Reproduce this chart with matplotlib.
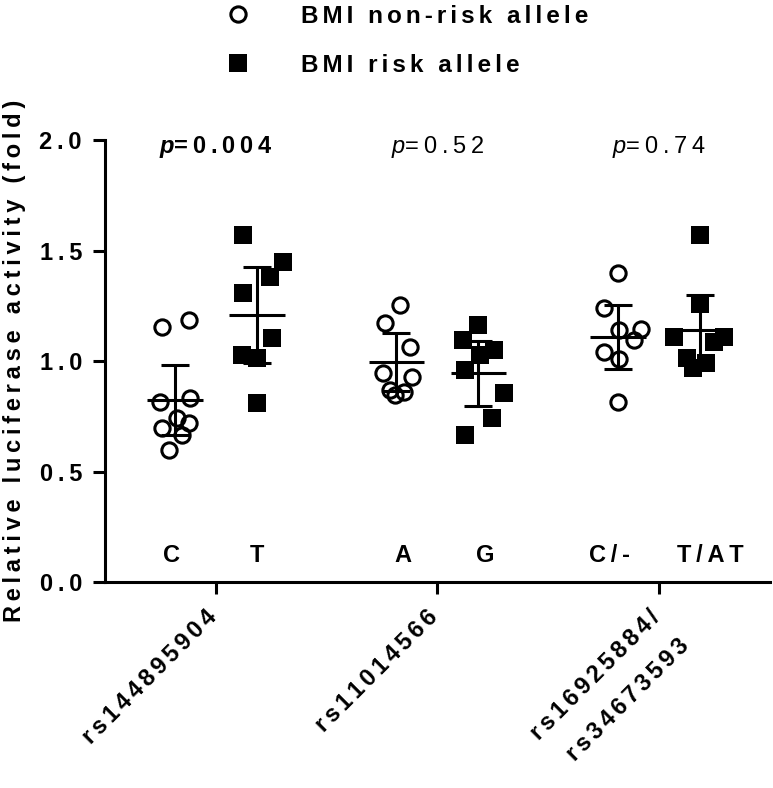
# -*- coding: utf-8 -*-
# Relative luciferase activity per SNP allele (mean +/- SD)

import numpy as np
import matplotlib
matplotlib.use("Agg")
import matplotlib.pyplot as plt
from matplotlib.transforms import ScaledTranslation

plt.rcParams['font.family'] = ['Liberation Sans', 'DejaVu Sans']
plt.rcParams['font.weight'] = 'bold'
plt.rcParams['mathtext.fontset'] = 'custom'
plt.rcParams['mathtext.it'] = 'Liberation Sans:italic:normal'
plt.rcParams['mathtext.bfit'] = 'Liberation Sans:italic:bold'
plt.rcParams['mathtext.rm'] = 'Liberation Sans:normal'

### data
snps = ["rs144895904", "rs11014566", "rs16925884/\nrs34673593"]
alleles_nonrisk = ["C", "A", "C/-"]
alleles_risk = ["T", "G", "T/AT"]
pvalues = ["0.004", "0.52", "0.74"]

nonrisk_values = [
    [1.155, 1.186, 0.816, 0.831, 0.741, 0.718, 0.695, 0.665, 0.597],
    [1.253, 1.170, 1.065, 0.944, 0.929, 0.869, 0.861, 0.846],
    [1.400, 1.240, 1.143, 1.140, 1.095, 1.040, 1.010, 0.813],
]
risk_values = [
    [1.570, 1.450, 1.380, 1.310, 1.105, 1.027, 1.012, 0.808],
    [1.163, 1.095, 1.050, 1.027, 0.959, 0.854, 0.741, 0.665],
    [1.570, 1.260, 1.110, 1.110, 1.087, 1.012, 0.990, 0.970],
]
nonrisk_mean = [0.823, 0.995, 1.110]
nonrisk_sd = [0.159, 0.130, 0.145]
risk_mean = [1.207, 0.944, 1.140]
risk_sd = [0.217, 0.148, 0.160]

# horizontal scatter of the points (as drawn)
nonrisk_jitter = [
    [-0.059, 0.063, -0.068, 0.068, 0.009, 0.063, -0.059, 0.032, -0.027],
    [0.014, -0.054, 0.063, -0.063, 0.072, -0.027, 0.036, -0.005],
    [0.0, -0.063, 0.104, 0.005, 0.072, -0.063, 0.005, 0.0],
]
risk_jitter = [
    [-0.063, 0.117, 0.059, -0.063, 0.068, -0.068, 0.0, 0.0],
    [0.0, -0.068, 0.068, 0.009, -0.059, 0.117, 0.063, -0.059],
    [0.0, 0.0, -0.117, 0.108, 0.063, -0.059, 0.027, -0.032],
]
# small nudges of the allele letters relative to their column
label_nudge_nonrisk = [-0.015, 0.03, -0.04]
label_nudge_risk = [0.0, 0.03, 0.045]


# the original uses wide letter spacing, imitate with narrow spaces
def track(s, sep="\u2009"):
    return "\n".join(sep.join(line) for line in s.split("\n"))


### figure
fig = plt.figure(figsize=(7.73, 7.88), dpi=100)
ax = fig.add_axes([0.1358, 0.2614, 0.8603, 0.5609])

fs = 17
lw = 2.2
offset = 0.185
for i in range(len(snps)):
    xc = i + 1 - offset
    xr = i + 1 + offset
    ax.plot(xc + np.array(nonrisk_jitter[i]), nonrisk_values[i], 'o', ms=11, mfc='none',
            mec='black', mew=lw, zorder=2,
            label=track("BMI non-risk allele", "\u2006") if i == 0 else None)
    ax.plot(xr + np.array(risk_jitter[i]), risk_values[i], 's', ms=12.5, mfc='black',
            mec='black', mew=0, zorder=2,
            label=track("BMI risk allele", "\u2006") if i == 0 else None)

    for x, m, s in [(xc, nonrisk_mean[i], nonrisk_sd[i]), (xr, risk_mean[i], risk_sd[i])]:
        ax.hlines(m, x - 0.125, x + 0.125, color='black', lw=lw, zorder=3)
        ax.errorbar(x, m, yerr=s, fmt='none', ecolor='black', elinewidth=lw,
                    capsize=10, capthick=lw, zorder=3)

    # allele labels
    ax.text(xc + label_nudge_nonrisk[i], 0.122, track(alleles_nonrisk[i]), ha='center',
            va='center', fontsize=fs)
    ax.text(xr + label_nudge_risk[i], 0.122, track(alleles_risk[i]), ha='center',
            va='center', fontsize=fs)

    # p values
    if i == 0:
        ax.text(i + 1, 1.97, r'$\mathbfit{p}$' + track('=' + pvalues[i]), ha='center',
                va='center', fontsize=fs, fontweight='bold')
    else:
        ax.text(i + 1, 1.97, r'$\mathit{p}$' + track('=' + pvalues[i]), ha='center',
                va='center', fontsize=fs, fontweight='normal')

ax.set_xlim(0.5, 3.5)
ax.set_ylim(0, 2.0)
yticks = [0, 0.5, 1.0, 1.5, 2.0]
ax.set_yticks(yticks)
ax.set_yticklabels([track("%.1f" % v) for v in yticks], fontsize=fs)
ax.set_xticks([1, 2, 3])

for side in ['top', 'right']:
    ax.spines[side].set_visible(False)
for side in ['left', 'bottom']:
    ax.spines[side].set_linewidth(lw)
ax.tick_params(axis='both', length=8.6, width=lw, direction='out')
ax.tick_params(axis='y', pad=8)
ax.tick_params(axis='x', pad=12)

ax.set_xticklabels([track(s, "\u2006") for s in snps], rotation=45, ha='right',
                   rotation_mode='anchor', fontsize=fs, linespacing=2.0)
# pull the rotated labels back so they end under their tick
shift = ScaledTranslation(-0.11, 0.05, fig.dpi_scale_trans)
for lab in ax.get_xticklabels():
    lab.set_transform(lab.get_transform() + shift)

ax.set_ylabel(track("Relative luciferase activity (fold)"), fontsize=fs, fontweight='bold',
              labelpad=10)

ax.legend(loc='upper left', bbox_to_anchor=(226 / 773, 1 - 5 / 788),
          bbox_transform=fig.transFigure, frameon=False, borderaxespad=0, borderpad=0,
          handlelength=1.0, handletextpad=2.1, labelspacing=1.05, fontsize=17.5)

fig.savefig("out.png", dpi=100)
